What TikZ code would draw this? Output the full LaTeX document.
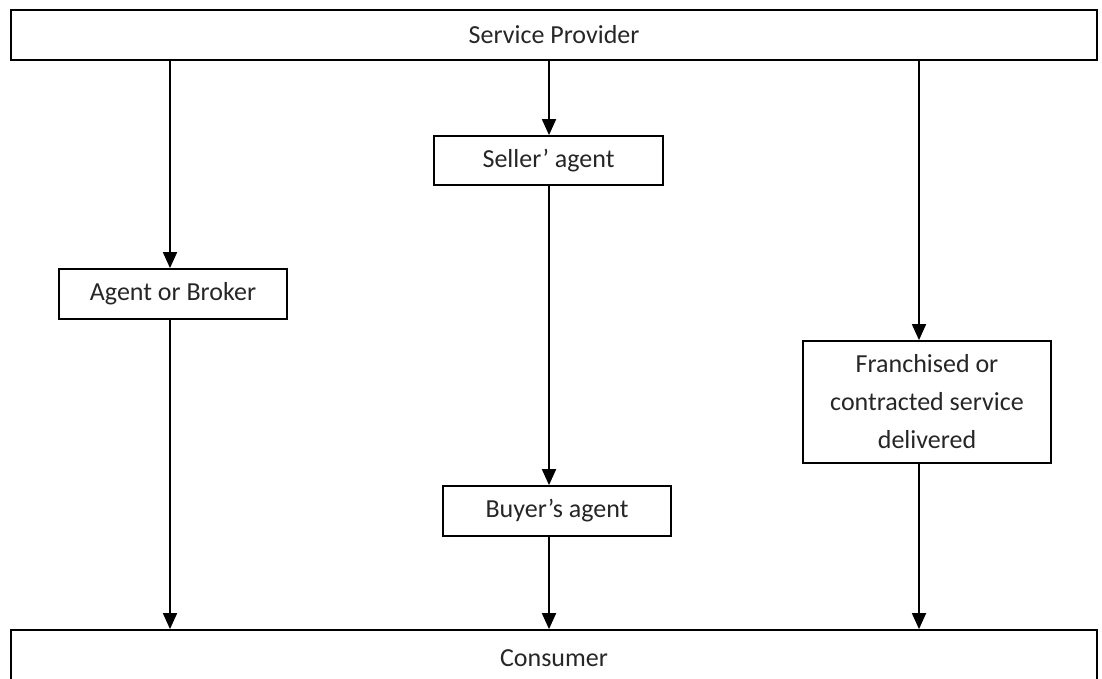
\documentclass[tikz,border=0pt]{standalone}
\usepackage{fontspec}
\setmainfont{Carlito}
\usetikzlibrary{arrows.meta}
\begin{document}
\begin{tikzpicture}[x=1pt,y=-1pt,
  boxnode/.style={draw=black,line width=1.8pt,inner sep=0pt,align=center,
    font=\fontsize{26}{38}\selectfont,text=black!85},
  arr/.style={line width=1.8pt,-{Triangle[width=14pt,length=16pt]}},
  link/.style={line width=1.8pt}]
\clip (0,0) rectangle (1102,678);
\fill[white] (0,0) rectangle (1102,678);
\node[boxnode,minimum width=1086pt,minimum height=50pt] (top) at (554,35) {Service Provider};
\node[boxnode,minimum width=228pt,minimum height=50pt] (agent) at (173,294) {Agent or Broker};
\node[boxnode,minimum width=229pt,minimum height=49pt] (seller) at (548.5,160.5) {Seller’ agent};
\node[boxnode,minimum width=228pt,minimum height=50pt] (buyer) at (557,511) {Buyer’s agent};
\node[boxnode,minimum width=248pt,minimum height=122pt] (franch) at (927,402) {Franchised or\\contracted service\\delivered};
\node[boxnode,minimum width=1086pt,minimum height=56pt] (cons) at (554,658) {Consumer};
\coordinate (xL) at (170,0);
\coordinate (xM) at (549,0);
\coordinate (xR) at (919,0);
\draw[arr] (top.south -| xL) -- (agent.north -| xL);
\draw[arr] (agent.south -| xL) -- (cons.north -| xL);
\draw[arr] (top.south -| xM) -- (seller.north -| xM);
\draw[arr] (seller.south -| xM) -- (buyer.north -| xM);
\draw[arr] (buyer.south -| xM) -- (cons.north -| xM);
\draw[arr] (top.south -| xR) -- (franch.north -| xR);
\draw[arr] (franch.south -| xR) -- (cons.north -| xR);
\end{tikzpicture}
\end{document}
